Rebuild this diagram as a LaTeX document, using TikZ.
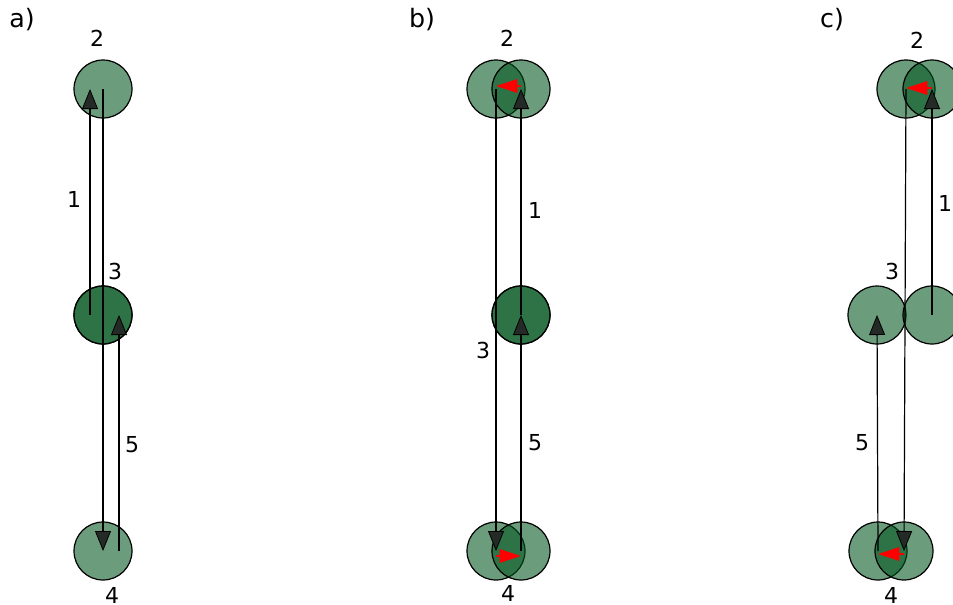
\documentclass[tikz,border=0pt]{standalone}
\usepackage{fontspec}
\setmainfont{DejaVu Sans}
\usepackage{xcolor}
\usetikzlibrary{arrows.meta}
\definecolor{ballgreen}{RGB}{0,85,30}
\definecolor{headgray}{RGB}{36,42,38}

\begin{document}
\begin{tikzpicture}[line join=miter,x=0.75pt,y=-0.75pt,
  ball/.style={circle,draw=black,line width=0.9pt,fill=ballgreen,fill opacity=0.58,minimum size=43.5pt,inner sep=0pt},
  flow/.style={line width=0.9pt,-{Triangle[length=15pt,width=12pt,fill=headgray,line width=0.6pt]}},
  swap/.style={red,line width=1.5pt,-{Triangle[length=16pt,width=10pt]}},
  lab/.style={font=\fontsize{16.5}{19}\selectfont,inner sep=0pt},
  panel/.style={font=\fontsize{19}{22}\selectfont,inner sep=0pt}]
\useasboundingbox (0,0) rectangle (953,604);
\clip (0,0) rectangle (953,604);
\node[panel] (ta) at (22,20) {a)};
\node[panel] (tb) at (422,20) {b)};
\node[panel] (tc) at (832,20) {c)};
\node[ball] (a2) at (103,89) {};
\node[ball] (a3) at (103,315) {};
\node[ball] (a3b) at (103,315) {};
\node[ball] (a4) at (103,551) {};
\draw[flow] ([xshift=-9.75pt]a3.center) -- ([xshift=-9.75pt]a2.center);
\draw[flow] (a2.center) -- (a4.center);
\draw[flow] ([xshift=12pt]a4.center) -- ([xshift=12pt]a3.center);
\node[lab] (la2) at (97,38) {2};
\node[lab] (la1) at (74,199) {1};
\node[lab] (la3) at (115,271) {3};
\node[lab] (la5) at (132,445) {5};
\node[lab] (la4) at (112,595) {4};
\node[ball] (b2l) at (496,89) {};
\node[ball] (b2r) at (521,89) {};
\node[ball] (b3) at (521,315) {};
\node[ball] (b3b) at (521,315) {};
\node[ball] (b4l) at (496,551) {};
\node[ball] (b4r) at (521,551) {};
\draw[swap] ([yshift=2.25pt]b2r.center) -- ([yshift=2.25pt]b2l.center);
\draw[swap] ([yshift=-3.75pt]b4l.center) -- ([yshift=-3.75pt]b4r.center);
\draw[flow] (b2l.center) -- (b4l.center);
\draw[flow] (b4r.center) -- (b3.center);
\draw[flow] (b3.center) -- (b2r.center);
\node[lab] (lb2) at (507,38) {2};
\node[lab] (lb1) at (535,210) {1};
\node[lab] (lb3) at (483,350) {3};
\node[lab] (lb5) at (535,443) {5};
\node[lab] (lb4) at (508,593) {4};
\node[ball] (c2l) at (906,89) {};
\node[ball] (c2r) at (932,89) {};
\node[ball] (c3l) at (877,315) {};
\node[ball] (c3r) at (932,315) {};
\node[ball] (c4l) at (878,551) {};
\node[ball] (c4r) at (904,551) {};
\draw[swap] ([yshift=0.75pt]c2r.center) -- ([yshift=0.75pt]c2l.center);
\draw[swap] ([yshift=-2.25pt]c4r.center) -- ([yshift=-2.25pt]c4l.center);
\draw[flow] (c3r.center) -- (c2r.center);
\draw[flow] (c2l.center) -- (c4r.center);
\draw[flow] (c4l.center) -- (c3l.center);
\node[lab] (lc2) at (917,40) {2};
\node[lab] (lc1) at (945,203) {1};
\node[lab] (lc3) at (892,271) {3};
\node[lab] (lc5) at (862,443) {5};
\node[lab] (lc4) at (891,595) {4};
\end{tikzpicture}
\end{document}
